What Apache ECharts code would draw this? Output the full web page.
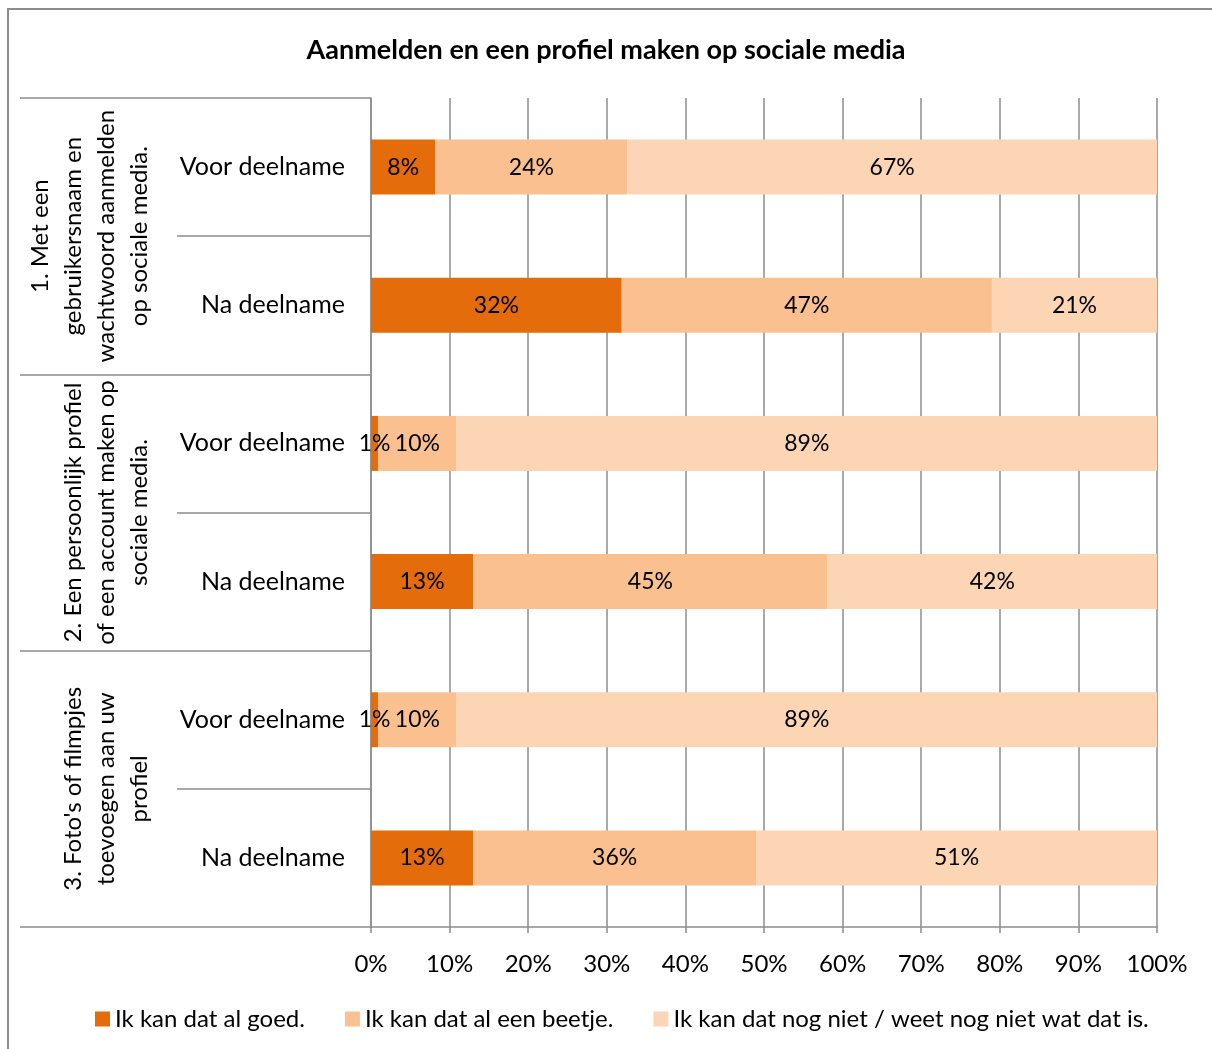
<!DOCTYPE html>
<html>
<head>
<meta charset="utf-8">
<script src="https://cdn.jsdelivr.net/npm/echarts@6/dist/echarts.min.js"></script>
<style>
    html, body { margin: 0; padding: 0; background: #fff; }
    #wrap { position: relative; width: 1212px; height: 1049px; overflow: hidden; }
    #frame { position: absolute; left: 7px; top: 8px; width: 1300px; height: 1200px;
             border-left: 2px solid #8c8c8c; border-top: 2px solid #8c8c8c; }
    #main { position: absolute; left: 0; top: 0; width: 1212px; height: 1049px; }
</style>
</head>
<body>
<div id="wrap">
    <div id="frame"></div>
    <div id="main"></div>
</div>
<script>
// categorieen (binnenste niveau) en groepen (buitenste niveau)
var subCategories = ['Voor deelname', 'Na deelname', 'Voor deelname', 'Na deelname', 'Voor deelname', 'Na deelname'];
var groups = [
    '1. Met een\ngebruikersnaam en\nwachtwoord aanmelden\nop sociale media.',
    '2. Een persoonlijk profiel\nof een account maken op\nsociale media.',
    "3. Foto's of filmpjes\ntoevoegen aan uw\nprofiel"
];
var seriesNames = ['Ik kan dat al goed.', 'Ik kan dat al een beetje.', 'Ik kan dat nog niet / weet nog niet wat dat is.'];

// percentages per rij
var goed = [8.2, 31.9, 0.9, 13.0, 0.9, 13.0];
var beetje = [24.4, 47.1, 10.0, 45.1, 10.0, 36.0];
var nogNiet = [67.4, 21.0, 89.1, 41.9, 89.1, 51.0];

var xTicks = [0, 10, 20, 30, 40, 50, 60, 70, 80, 90, 100];

var colors = ['#e46c0a', '#fac090', '#fcd5b5'];
var gray = '#8c8c8c';
var font = 'Lato';

var chart = echarts.init(document.getElementById('main'));

function barSeries(name, data) {
    return {
        name: name,
        type: 'bar',
        stack: 'total',
        barWidth: 55,
        data: data,
        label: {
            show: true,
            position: 'inside',
            color: '#000',
            fontFamily: font,
            fontSize: 23,
            formatter: function (p) { return Math.round(p.value) + '%'; }
        }
    };
}

chart.setOption({
    animation: false,
    color: colors,
    title: {
        text: 'Aanmelden en een profiel maken op sociale media',
        left: 'center',
        top: 32,
        textStyle: { fontFamily: font, fontSize: 27, fontWeight: 'bold', color: '#000' }
    },
    legend: {
        bottom: 13,
        left: 90,
        icon: 'rect',
        itemWidth: 15,
        itemHeight: 15,
        itemGap: 40,
        textStyle: { fontFamily: font, fontSize: 24, color: '#000' },
        data: seriesNames
    },
    grid: {
        left: 371,
        right: 55,
        top: 98,
        bottom: 122,
        containLabel: false,
        outerBoundsMode: 'none'
    },
    xAxis: {
        type: 'value',
        min: xTicks[0],
        max: xTicks[xTicks.length - 1],
        interval: 10,
        axisLine: { show: true, lineStyle: { color: gray, width: 1.5 } },
        axisTick: { show: true, length: 6, lineStyle: { color: gray, width: 1.5 } },
        splitLine: { show: true, lineStyle: { color: gray, width: 1.5 } },
        axisLabel: {
            margin: 25,
            color: '#000',
            fontFamily: font,
            fontSize: 24,
            formatter: '{value}%'
        }
    },
    yAxis: [
        {
            type: 'category',
            inverse: true,
            data: subCategories,
            axisLine: { show: true, lineStyle: { color: gray, width: 1.5 } },
            axisTick: { show: true, length: 194, interval: 0, lineStyle: { color: gray, width: 1.5 } },
            axisLabel: {
                interval: 0,
                margin: 26,
                color: '#000',
                fontFamily: font,
                fontSize: 25
            }
        },
        {
            type: 'category',
            inverse: true,
            position: 'left',
            offset: 0,
            data: groups,
            axisLine: { show: false },
            axisTick: { show: true, length: 351, interval: 0, lineStyle: { color: gray, width: 1.5 } },
            axisLabel: {
                interval: 0,
                rotate: 90,
                margin: 215,
                align: 'center',
                verticalAlign: 'bottom',
                lineHeight: 33,
                color: '#000',
                fontFamily: font,
                fontSize: 24
            }
        }
    ],
    series: [
        barSeries(seriesNames[0], goed),
        barSeries(seriesNames[1], beetje),
        barSeries(seriesNames[2], nogNiet)
    ]
});
</script>
</body>
</html>
